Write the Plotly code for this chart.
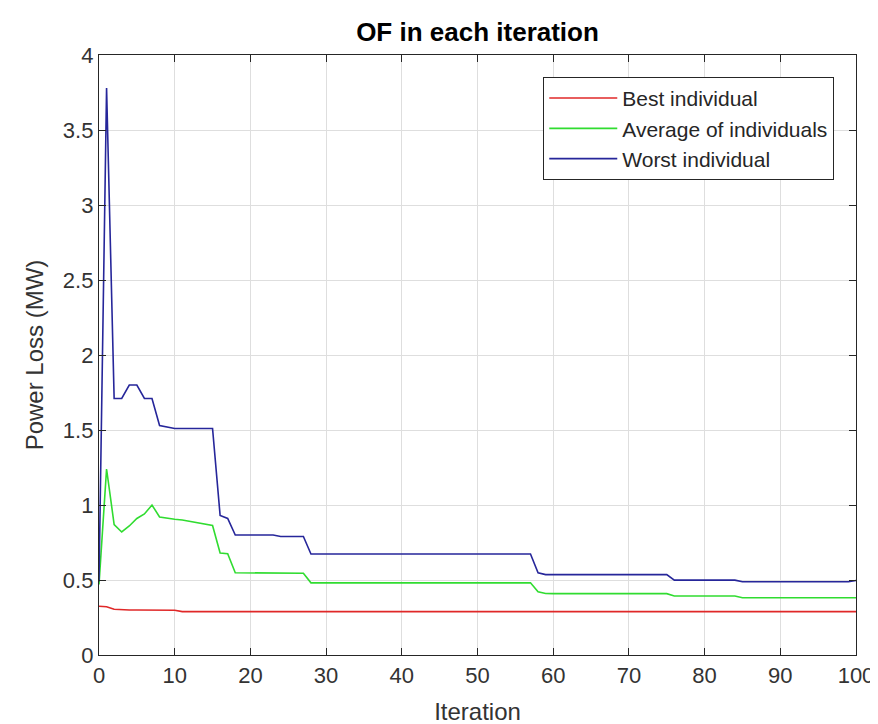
import plotly.graph_objects as go

iterations = list(range(0, 101))

best = [0.325, 0.322, 0.305, 0.300, 0.300, 0.300, 0.300, 0.300, 0.300, 0.299,
        0.298, 0.289, 0.289, 0.289, 0.289, 0.289, 0.289, 0.289, 0.289, 0.289,
        0.289, 0.289, 0.289, 0.289, 0.289, 0.289, 0.289, 0.289, 0.289, 0.289,
        0.289, 0.289, 0.289, 0.289, 0.289, 0.289, 0.289, 0.289, 0.289, 0.289,
        0.289, 0.289, 0.289, 0.289, 0.289, 0.289, 0.289, 0.289, 0.289, 0.289,
        0.289, 0.289, 0.289, 0.289, 0.289, 0.289, 0.289, 0.289, 0.289, 0.289,
        0.289, 0.289, 0.289, 0.289, 0.289, 0.289, 0.289, 0.289, 0.289, 0.289,
        0.289, 0.289, 0.289, 0.289, 0.289, 0.289, 0.289, 0.289, 0.289, 0.289,
        0.289, 0.289, 0.289, 0.289, 0.289, 0.289, 0.289, 0.289, 0.289, 0.289,
        0.289, 0.289, 0.289, 0.289, 0.289, 0.289, 0.289, 0.289, 0.289, 0.289,
        0.289]

average = [0.47, 1.24, 0.87, 0.82, 0.86, 0.91, 0.94, 1.00, 0.92, 0.91,
           0.905, 0.90, 0.89, 0.88, 0.868, 0.863, 0.68, 0.675, 0.548, 0.548,
           0.548, 0.548, 0.548, 0.548, 0.548, 0.548, 0.548, 0.545, 0.481, 0.481,
           0.481, 0.481, 0.481, 0.481, 0.481, 0.481, 0.481, 0.481, 0.481, 0.481,
           0.481, 0.481, 0.481, 0.481, 0.481, 0.481, 0.481, 0.481, 0.481, 0.481,
           0.481, 0.481, 0.481, 0.481, 0.481, 0.481, 0.481, 0.481, 0.422, 0.410,
           0.409, 0.409, 0.409, 0.409, 0.409, 0.409, 0.409, 0.409, 0.409, 0.409,
           0.409, 0.409, 0.409, 0.409, 0.409, 0.409, 0.393, 0.393, 0.393, 0.393,
           0.393, 0.393, 0.393, 0.393, 0.393, 0.382, 0.382, 0.382, 0.382, 0.382,
           0.382, 0.382, 0.382, 0.382, 0.382, 0.382, 0.382, 0.382, 0.382, 0.382,
           0.382]

worst = [0.49, 3.78, 1.71, 1.71, 1.80, 1.80, 1.71, 1.71, 1.53, 1.52,
         1.51, 1.51, 1.51, 1.51, 1.51, 1.51, 0.93, 0.91, 0.80, 0.80,
         0.80, 0.80, 0.80, 0.80, 0.79, 0.79, 0.79, 0.79, 0.673, 0.673,
         0.673, 0.673, 0.673, 0.673, 0.673, 0.673, 0.673, 0.673, 0.673, 0.673,
         0.673, 0.673, 0.673, 0.673, 0.673, 0.673, 0.673, 0.673, 0.673, 0.673,
         0.673, 0.673, 0.673, 0.673, 0.673, 0.673, 0.673, 0.673, 0.548, 0.536,
         0.536, 0.536, 0.536, 0.536, 0.536, 0.536, 0.536, 0.536, 0.536, 0.536,
         0.536, 0.536, 0.536, 0.536, 0.536, 0.536, 0.499, 0.499, 0.499, 0.499,
         0.499, 0.499, 0.499, 0.499, 0.499, 0.488, 0.488, 0.488, 0.488, 0.488,
         0.488, 0.488, 0.488, 0.488, 0.488, 0.488, 0.488, 0.488, 0.488, 0.488,
         0.497]

series_names = ["Best individual", "Average of individuals", "Worst individual"]
series_colors = ["#e02828", "#30dc30", "#26269a"]

font_family = "Liberation Sans, Arial, Helvetica, sans-serif"

fig = go.Figure()
for name, vals, col in zip(series_names, [best, average, worst], series_colors):
    fig.add_trace(go.Scatter(x=iterations, y=vals, mode="lines", name=name,
                             line=dict(color=col, width=1.6)))

axis_common = dict(
    showline=True, linecolor="#262626", linewidth=1.3, mirror="ticks",
    ticks="inside", ticklen=7, tickcolor="#262626", tickwidth=1.2,
    showgrid=True, gridcolor="#dedede", gridwidth=1, zeroline=False,
    tickfont=dict(family=font_family, size=22, color="#333333"),
)

fig.update_layout(
    width=878, height=724,
    paper_bgcolor="white", plot_bgcolor="white",
    margin=dict(l=91, r=21, t=47, b=75),
    title=dict(text="<b>OF in each iteration</b>", x=0.5, xref="paper",
               xanchor="center", y=1 - 24 / 724, yanchor="middle",
               yref="container",
               font=dict(family=font_family, size=26, color="black")),
    xaxis=dict(range=[0, 100], dtick=10, tick0=0,
               title=dict(text="Iteration", standoff=16,
                          font=dict(family=font_family, size=24, color="#333333")),
               **axis_common),
    yaxis=dict(range=[0, 4], dtick=0.5, tick0=0,
               title=dict(text="Power Loss (MW)", standoff=12,
                          font=dict(family=font_family, size=24, color="#333333")),
               **axis_common),
    legend=dict(x=(835 - 91) / (857 - 91), xanchor="right",
                y=(649.5 - 69) / (649.5 - 47), yanchor="top",
                bgcolor="white", bordercolor="#262626", borderwidth=1,
                font=dict(family=font_family, size=21, color="#262626"),
                itemwidth=68, tracegroupgap=0),
    showlegend=True,
)

fig.write_html("out.html")
